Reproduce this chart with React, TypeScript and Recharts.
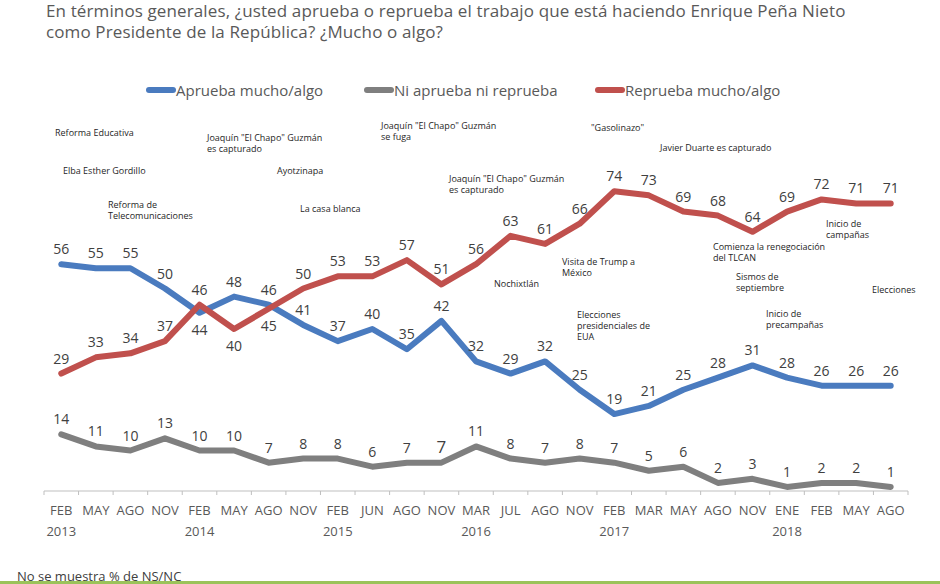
import React from 'react';
import { LineChart, Line, XAxis, YAxis, LabelList } from 'recharts';

const months = ['FEB', 'MAY', 'AGO', 'NOV', 'FEB', 'MAY', 'AGO', 'NOV', 'FEB', 'JUN', 'AGO', 'NOV', 'MAR', 'JUL', 'AGO', 'NOV', 'FEB', 'MAR', 'MAY', 'AGO', 'NOV', 'ENE', 'FEB', 'MAY', 'AGO'];
const years = ['2013', '', '', '', '2014', '', '', '', '2015', '', '', '', '2016', '', '', '', '2017', '', '', '', '', '2018', '', '', ''];

const aprueba = [56, 55, 55, 50, 44, 48, 46, 41, 37, 40, 35, 42, 32, 29, 32, 25, 19, 21, 25, 28, 31, 28, 26, 26, 26];
const niNi = [14, 11, 10, 13, 10, 10, 7, 8, 8, 6, 7, 7, 11, 8, 7, 8, 7, 5, 6, 2, 3, 1, 2, 2, 1];
const reprueba = [29, 33, 34, 37, 46, 40, 45, 50, 53, 53, 57, 51, 56, 63, 61, 66, 74, 73, 69, 68, 64, 69, 72, 71, 71];

const data = months.map((m, i) => ({
  key: `${m}-${i}`,
  month: m,
  year: years[i],
  aprueba: aprueba[i],
  niNi: niNi[i],
  reprueba: reprueba[i],
}));

const events = [
  { x: 55, y: 127, lines: ['Reforma Educativa'] },
  { x: 63, y: 165, lines: ['Elba Esther Gordillo'] },
  { x: 108, y: 199, lines: ['Reforma de', 'Telecomunicaciones'] },
  { x: 207, y: 132, lines: ['Joaquín "El Chapo" Guzmán', 'es capturado'] },
  { x: 277, y: 165, lines: ['Ayotzinapa'] },
  { x: 300, y: 203, lines: ['La casa blanca'] },
  { x: 381, y: 120, lines: ['Joaquín "El Chapo" Guzmán', 'se fuga'] },
  { x: 449, y: 173, lines: ['Joaquín "El Chapo" Guzmán', 'es capturado'] },
  { x: 591, y: 122, lines: ['"Gasolinazo"'] },
  { x: 660, y: 142, lines: ['Javier Duarte es capturado'] },
  { x: 494, y: 278, lines: ['Nochixtlán'] },
  { x: 562, y: 256, lines: ['Visita de Trump a', 'México'] },
  { x: 577, y: 309, lines: ['Elecciones', 'presidenciales de', 'EUA'] },
  { x: 713, y: 241, lines: ['Comienza la renegociación', 'del TLCAN'] },
  { x: 736, y: 271, lines: ['Sismos de', 'septiembre'] },
  { x: 766, y: 308, lines: ['Inicio de', 'precampañas'] },
  { x: 826, y: 218, lines: ['Inicio de', 'campañas'] },
  { x: 872, y: 284, lines: ['Elecciones'] },
];

const BLUE = '#4a7bbf';
const GRAY = '#7f7f7f';
const RED = '#c0504d';
const FONT = '"Open Sans", "Noto Sans", sans-serif';

const PLOT_LEFT = 44;
const PLOT_RIGHT = 908;
const HALF_BAND = (PLOT_RIGHT - PLOT_LEFT) / months.length / 2;

const makeLabel = (below: number[], big: number[] = []) => (props: any) => {
  const { x, y, value, index } = props;
  const isBelow = below.includes(index);
  return (
    <text
      x={x}
      y={isBelow ? y + 22 : y - 10}
      textAnchor="middle"
      fontFamily={FONT}
      fontSize={big.includes(index) ? 17 : 14}
      fill="#404040"
    >
      {value}
    </text>
  );
};

const AxisTick = (props: any) => {
  const { x, y, payload, index } = props;
  const axisY = y - 8;
  const item = data[index];
  return (
    <g>
      <line x1={x - HALF_BAND} x2={x - HALF_BAND} y1={axisY} y2={axisY + 4} stroke="#bfbfbf" />
      {index === months.length - 1 && (
        <line x1={x + HALF_BAND} x2={x + HALF_BAND} y1={axisY} y2={axisY + 4} stroke="#bfbfbf" />
      )}
      <text x={x} y={axisY + 24} textAnchor="middle" fontFamily={FONT} fontSize={13} fill="#595959">
        {item ? item.month : payload.value}
      </text>
      {item && item.year && (
        <text x={x} y={axisY + 45} textAnchor="middle" fontFamily={FONT} fontSize={13} fill="#595959">
          {item.year}
        </text>
      )}
    </g>
  );
};

const legendItems = [
  { label: 'Aprueba mucho/algo', color: BLUE, x: 146 },
  { label: 'Ni aprueba ni reprueba', color: GRAY, x: 364 },
  { label: 'Reprueba mucho/algo', color: RED, x: 595 },
];

export default function App() {
  return (
    <div style={{ position: 'relative', width: 940, height: 584, background: '#fff', overflow: 'hidden', fontFamily: FONT }}>
      <style>{'body{margin:0}'}</style>
      <div style={{ position: 'absolute', left: 46, top: 0, fontSize: 17, letterSpacing: 0.12, lineHeight: '21px', color: '#595959', whiteSpace: 'nowrap' }}>
        <div>En términos generales, ¿usted aprueba o reprueba el trabajo que está haciendo Enrique Peña Nieto</div>
        <div>como Presidente de la República? ¿Mucho o algo?</div>
      </div>

      {legendItems.map((l) => (
        <div key={l.label} style={{ position: 'absolute', left: l.x, top: 79, height: 22, display: 'flex', alignItems: 'center' }}>
          <div style={{ width: 30, height: 6, borderRadius: 3, background: l.color }} />
          <span style={{ fontSize: 15, color: '#595959', whiteSpace: 'nowrap' }}>{l.label}</span>
        </div>
      ))}

      <div style={{ position: 'absolute', left: 0, top: 0 }}>
        <LineChart width={940} height={584} data={data} margin={{ top: 86, right: 940 - PLOT_RIGHT, bottom: 0, left: PLOT_LEFT }}>
          <XAxis
            dataKey="key"
            interval={0}
            tickLine={false}
            tickSize={6}
            tickMargin={2}
            axisLine={{ stroke: '#bfbfbf' }}
            padding={{ left: HALF_BAND, right: HALF_BAND }}
            tick={<AxisTick />}
            height={93}
          />
          <YAxis hide domain={[0, 100]} />
          <Line dataKey="aprueba" stroke={BLUE} strokeWidth={6} dot={false} strokeLinejoin="round" strokeLinecap="round" isAnimationActive={false}>
            <LabelList dataKey="aprueba" content={makeLabel([4])} />
          </Line>
          <Line dataKey="niNi" stroke={GRAY} strokeWidth={6} dot={false} strokeLinejoin="round" strokeLinecap="round" isAnimationActive={false}>
            <LabelList dataKey="niNi" content={makeLabel([], [11])} />
          </Line>
          <Line dataKey="reprueba" stroke={RED} strokeWidth={6} dot={false} strokeLinejoin="round" strokeLinecap="round" isAnimationActive={false}>
            <LabelList dataKey="reprueba" content={makeLabel([5, 6])} />
          </Line>
        </LineChart>
      </div>

      {events.map((e, i) => (
        <div key={i} style={{ position: 'absolute', left: e.x, top: e.y, fontSize: 9, lineHeight: '11px', color: '#262626', whiteSpace: 'nowrap' }}>
          {e.lines.map((t, j) => (
            <div key={j}>{t}</div>
          ))}
        </div>
      ))}

      <div style={{ position: 'absolute', left: 17, top: 568, fontSize: 13, lineHeight: '16px', color: '#404040', whiteSpace: 'nowrap' }}>
        No se muestra % de NS/NC
      </div>
      <div style={{ position: 'absolute', left: 0, top: 581, width: 940, height: 3, background: '#9bc35a' }} />
    </div>
  );
}
